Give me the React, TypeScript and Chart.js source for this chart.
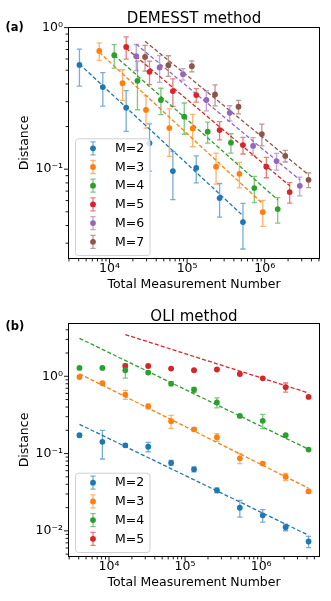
import React, { useEffect, useRef } from "react";
import { Chart, registerables } from "chart.js";
Chart.register(...registerables);

const FONT = "'DejaVu Sans', 'Liberation Sans', sans-serif";
const TAB = ["#1f77b4", "#ff7f0e", "#2ca02c", "#d62728", "#9467bd", "#8c564b"];
const X_TITLE = "Total Measurement Number";
const Y_TITLE = "Distance";

// ---------------- Panel (a): DEMESST method ----------------
const aTitle = "DEMESST method";
const aLabels = ["M=2", "M=3", "M=4", "M=5", "M=6", "M=7"];
const aX2 = [4096, 8192, 16384, 32768, 65536, 131072, 262144, 524288];
const aX3 = [7370, 14700, 29500, 59000, 118000, 236000, 472000, 944000];
const aX4 = [11500, 22900, 45900, 91800, 184000, 367000, 734000, 1470000];
const aX5 = [16384, 32768, 65536, 131072, 262144, 524288, 1048576, 2097152];
const aX6 = [22100, 44200, 88500, 177000, 354000, 708000, 1420000, 2830000];
const aX7 = [28700, 57300, 115000, 229000, 459000, 918000, 1840000, 3670000];
const aY2 = [0.545, 0.38, 0.272, 0.153, 0.097, 0.102, 0.0625, 0.0423];
const aE2 = [0.159, 0.101, 0.087, 0.056, 0.036, 0.022, 0.0167, 0.015];
const aY3 = [0.684, 0.405, 0.262, 0.195, 0.194, 0.104, 0.0927, 0.0498];
const aE3 = [0.097, 0.099, 0.067, 0.072, 0.05, 0.0257, 0.019, 0.0104];
const aY4 = [0.638, 0.421, 0.308, 0.235, 0.184, 0.154, 0.0735, 0.0523];
const aE4 = [0.12, 0.158, 0.065, 0.0585, 0.031, 0.024, 0.0155, 0.0107];
const aY5 = [0.73, 0.487, 0.356, 0.334, 0.189, 0.148, 0.104, 0.0689];
const aE5 = [0.131, 0.092, 0.078, 0.0365, 0.028, 0.02, 0.017, 0.0114];
const aY6 = [0.628, 0.523, 0.469, 0.308, 0.25, 0.146, 0.114, 0.0763];
const aE6 = [0.132, 0.112, 0.044, 0.05, 0.0305, 0.021, 0.0154, 0.0115];
const aY7 = [0.621, 0.543, 0.534, 0.337, 0.276, 0.177, 0.124, 0.0841];
const aE7 = [0.129, 0.09, 0.0475, 0.057, 0.03, 0.031, 0.0116, 0.0101];
// dashed fit lines: value at first and last x of each series
const aFitStart = [0.552, 0.67, 0.638, 0.715, 0.763, 0.801];
const aFitEnd = [0.0469, 0.057, 0.0608, 0.0763, 0.0841, 0.0912];
const aXLim = [2916, 5156000];
const aYLim = [0.0232, 1.01];

// ---------------- Panel (b): OLI method ----------------
const bTitle = "OLI method";
const bLabels = ["M=2", "M=3", "M=4", "M=5"];
const bX = [4096, 8192, 16384, 32768, 65536, 131072, 262144, 524288, 1048576, 2097152, 4194304];
const bX5 = [16384, 32768, 65536, 131072, 262144, 524288, 1048576, 2097152, 4194304];
const bY2 = [0.1725, 0.142, 0.128, 0.1225, 0.076, 0.0626, 0.0335, 0.0199, 0.0159, 0.01113, 0.00728];
const bE2 = [0.008, 0.057, 0.005, 0.017, 0.0056, 0.0045, 0.0025, 0.0048, 0.0029, 0.0011, 0.0012];
const bY3 = [0.979, 0.812, 0.58, 0.409, 0.262, 0.206, 0.1625, 0.0869, 0.0743, 0.0501, 0.0325];
const bE3 = [0.03, 0.03, 0.077, 0.03, 0.05, 0.01, 0.019, 0.013, 0.003, 0.0053, 0.002];
const bY4 = [1.281, 1.281, 1.196, 1.117, 0.804, 0.669, 0.458, 0.3065, 0.2656, 0.1725, 0.1126];
const bE4 = [0.03, 0.03, 0.25, 0.04, 0.05, 0.05, 0.068, 0.01, 0.055, 0.005, 0.004];
const bY5 = [1.359, 1.359, 1.258, 1.196, 1.224, 1.071, 0.942, 0.721, 0.54];
const bE5 = [0.02, 0.02, 0.02, 0.02, 0.02, 0.02, 0.02, 0.097, 0.01];
const bFitStart = [0.239, 1.077, 3.1, 3.464];
const bFitEnd = [0.00877, 0.0356, 0.1137, 0.608];
const bXLim = [2894, 5930000];
const bYLim = [0.00459, 4.89];

const SUP: Record<string, string> = {
  "0": "\u2070", "1": "\u00b9", "2": "\u00b2", "3": "\u00b3", "4": "\u2074",
  "5": "\u2075", "6": "\u2076", "7": "\u2077", "8": "\u2078", "9": "\u2079", "-": "\u207b",
};
const powLabel = (v: number) => {
  const l = Math.log10(v);
  const r = Math.round(l);
  if (Math.abs(l - r) > 1e-6) return "";
  return "10" + String(r).split("").map((c) => SUP[c]).join("");
};

function rgba(hex: string, a: number) {
  const n = parseInt(hex.slice(1), 16);
  return `rgba(${(n >> 16) & 255},${(n >> 8) & 255},${n & 255},${a})`;
}

type Series = { label: string; xs: number[]; ys: number[]; errs: number[]; fit: [number, number] };
type PanelCfg = {
  title: string;
  panel: string;
  series: Series[];
  xLim: number[];
  yLim: number[];
  height: number;
  padTop: number;
  xAxisHeight: number;
  xTitlePad: number;
  xTickPad: number;
  titleGap: number;
  panelLabelY: number;
  legendGap: number;
};

function drawErrGlyph(ctx: CanvasRenderingContext2D, x: number, y1: number, y2: number, color: string) {
  const cap = 2.6;
  ctx.strokeStyle = rgba(color, 0.6);
  ctx.lineWidth = 1.3;
  ctx.beginPath();
  ctx.moveTo(x, y1);
  ctx.lineTo(x, y2);
  ctx.moveTo(x - cap, y1);
  ctx.lineTo(x + cap, y1);
  ctx.moveTo(x - cap, y2);
  ctx.lineTo(x + cap, y2);
  ctx.stroke();
}

function makePlugin(cfg: PanelCfg) {
  return {
    id: "panelDecor",
    beforeDatasetsDraw(chart: any) {
      const { ctx, scales } = chart;
      const xs = scales.x, ys = scales.y;
      ctx.save();
      chart.data.datasets.forEach((ds: any) => {
        if (!ds.errors) return;
        ds.data.forEach((p: any, j: number) => {
          const e = ds.errors[j];
          const px = xs.getPixelForValue(p.x);
          const y1 = ys.getPixelForValue(p.y + e);
          const y2 = ys.getPixelForValue(Math.max(p.y - e, 1e-9));
          drawErrGlyph(ctx, px, y1, y2, ds.baseColor);
        });
      });
      ctx.restore();
    },
    afterDraw(chart: any) {
      const { ctx, chartArea: a, scales } = chart;
      ctx.save();
      // frame
      ctx.strokeStyle = "#000";
      ctx.lineWidth = 1;
      ctx.strokeRect(Math.round(a.left) + 0.5, Math.round(a.top) + 0.5, Math.round(a.right - a.left) - 1, Math.round(a.bottom - a.top) - 1);
      // ticks
      ctx.lineWidth = 0.9;
      const drawTicks = (scale: any, horizontal: boolean) => {
        const lo = Math.floor(Math.log10(scale.min));
        const hi = Math.ceil(Math.log10(scale.max));
        for (let d = lo; d <= hi; d++) {
          for (let m = 1; m <= 9; m++) {
            const v = m * Math.pow(10, d);
            if (v < scale.min || v > scale.max) continue;
            const p = scale.getPixelForValue(v);
            const len = m === 1 ? 4 : 2.4;
            ctx.beginPath();
            if (horizontal) {
              ctx.moveTo(p, a.bottom);
              ctx.lineTo(p, a.bottom + len);
            } else {
              ctx.moveTo(a.left, p);
              ctx.lineTo(a.left - len, p);
            }
            ctx.stroke();
          }
        }
      };
      drawTicks(scales.x, true);
      drawTicks(scales.y, false);
      // title
      ctx.fillStyle = "#000";
      ctx.font = `15px ${FONT}`;
      ctx.textAlign = "center";
      ctx.textBaseline = "alphabetic";
      ctx.fillText(cfg.title, (a.left + a.right) / 2, a.top - cfg.titleGap);
      // panel label
      ctx.font = `bold 11.5px ${FONT}`;
      ctx.textAlign = "left";
      ctx.textBaseline = "middle";
      ctx.fillText(cfg.panel, 5.5, cfg.panelLabelY);
      // legend
      const pts = chart.data.datasets.filter((d: any) => d.errors);
      const rowH = 18.7;
      const boxH = pts.length * rowH + 4.5;
      const boxW = 74.5;
      const bx = a.left + 7;
      const by = a.bottom - cfg.legendGap - boxH;
      ctx.beginPath();
      (ctx as any).roundRect(bx + 0.5, by + 0.5, boxW, boxH, 3);
      ctx.fillStyle = "rgba(255,255,255,0.8)";
      ctx.fill();
      ctx.strokeStyle = "rgba(204,204,204,0.9)";
      ctx.lineWidth = 1;
      ctx.stroke();
      pts.forEach((d: any, i: number) => {
        const cy = by + 10 + i * rowH;
        const mx = bx + 18;
        drawErrGlyph(ctx, mx, cy - 6.5, cy + 6.5, d.baseColor);
        ctx.fillStyle = d.baseColor;
        ctx.beginPath();
        ctx.arc(mx, cy, 2.9, 0, Math.PI * 2);
        ctx.fill();
        ctx.fillStyle = "#000";
        ctx.font = `12.5px ${FONT}`;
        ctx.textAlign = "left";
        ctx.textBaseline = "middle";
        ctx.fillText(d.label, bx + 40, cy + 0.5);
      });
      ctx.restore();
    },
  };
}

function buildConfig(cfg: PanelCfg): any {
  const datasets: any[] = [];
  cfg.series.forEach((s, i) => {
    const c = TAB[i];
    datasets.push({
      label: s.label,
      data: s.xs.map((x, j) => ({ x, y: s.ys[j] })),
      errors: s.errs,
      baseColor: c,
      backgroundColor: c,
      borderColor: c,
      pointRadius: 2.9,
      pointHoverRadius: 2.9,
      pointBorderWidth: 0,
      showLine: false,
      order: 1,
    });
  });
  cfg.series.forEach((s, i) => {
    const c = TAB[i];
    datasets.push({
      label: s.label + " fit",
      data: [
        { x: s.xs[0], y: s.fit[0] },
        { x: s.xs[s.xs.length - 1], y: s.fit[1] },
      ],
      borderColor: c,
      backgroundColor: c,
      borderWidth: 1.3,
      borderDash: [4, 2.2],
      pointRadius: 0,
      showLine: true,
      fill: false,
      order: 2,
    });
  });
  const tickFont = { family: FONT, size: 12.5 };
  return {
    type: "scatter",
    data: { datasets },
    options: {
      responsive: false,
      animation: false,
      events: [],
      layout: { padding: { left: 0, right: 11, top: cfg.padTop, bottom: 0 } },
      plugins: { legend: { display: false }, tooltip: { enabled: false }, title: { display: false } },
      scales: {
        x: {
          type: "logarithmic",
          position: "bottom",
          min: cfg.xLim[0],
          max: cfg.xLim[1],
          grid: { display: false, drawTicks: false },
          border: { display: false },
          ticks: {
            callback: powLabel,
            autoSkip: false,
            maxRotation: 0,
            minRotation: 0,
            padding: cfg.xTickPad,
            color: "#000",
            font: tickFont,
          },
          title: {
            display: true,
            text: X_TITLE,
            color: "#000",
            font: tickFont,
            padding: { top: 0, bottom: cfg.xTitlePad },
          },
          afterFit: (sc: any) => {
            sc.height = cfg.xAxisHeight;
          },
        },
        y: {
          type: "logarithmic",
          position: "left",
          min: cfg.yLim[0],
          max: cfg.yLim[1],
          grid: { display: false, drawTicks: false },
          border: { display: false },
          ticks: { callback: powLabel, autoSkip: false, padding: 5, color: "#000", font: tickFont },
          title: {
            display: true,
            text: Y_TITLE,
            color: "#000",
            font: tickFont,
            padding: { top: 17, bottom: 0 },
          },
          afterFit: (sc: any) => {
            sc.width = 68;
          },
        },
      },
    },
    plugins: [makePlugin(cfg)],
  };
}

const panelA: PanelCfg = {
  title: aTitle,
  panel: "(a)",
  series: [
    { label: aLabels[0], xs: aX2, ys: aY2, errs: aE2, fit: [aFitStart[0], aFitEnd[0]] },
    { label: aLabels[1], xs: aX3, ys: aY3, errs: aE3, fit: [aFitStart[1], aFitEnd[1]] },
    { label: aLabels[2], xs: aX4, ys: aY4, errs: aE4, fit: [aFitStart[2], aFitEnd[2]] },
    { label: aLabels[3], xs: aX5, ys: aY5, errs: aE5, fit: [aFitStart[3], aFitEnd[3]] },
    { label: aLabels[4], xs: aX6, ys: aY6, errs: aE6, fit: [aFitStart[4], aFitEnd[4]] },
    { label: aLabels[5], xs: aX7, ys: aY7, errs: aE7, fit: [aFitStart[5], aFitEnd[5]] },
  ],
  xLim: aXLim,
  yLim: aYLim,
  height: 300,
  padTop: 27,
  xAxisHeight: 41,
  xTitlePad: 7.5,
  xTickPad: 2.5,
  titleGap: 4,
  panelLabelY: 28.5,
  legendGap: 4,
};

const panelB: PanelCfg = {
  title: bTitle,
  panel: "(b)",
  series: [
    { label: bLabels[0], xs: bX, ys: bY2, errs: bE2, fit: [bFitStart[0], bFitEnd[0]] },
    { label: bLabels[1], xs: bX, ys: bY3, errs: bE3, fit: [bFitStart[1], bFitEnd[1]] },
    { label: bLabels[2], xs: bX, ys: bY4, errs: bE4, fit: [bFitStart[2], bFitEnd[2]] },
    { label: bLabels[3], xs: bX5, ys: bY5, errs: bE5, fit: [bFitStart[3], bFitEnd[3]] },
  ],
  xLim: bXLim,
  yLim: bYLim,
  height: 301,
  padTop: 23,
  xAxisHeight: 44,
  xTitlePad: 10.5,
  xTickPad: 2,
  titleGap: 2,
  panelLabelY: 27,
  legendGap: 5,
};

function Panel({ cfg, top }: { cfg: PanelCfg; top: number }) {
  const ref = useRef<HTMLCanvasElement | null>(null);
  useEffect(() => {
    if (!ref.current) return;
    const chart = new Chart(ref.current, buildConfig(cfg));
    return () => chart.destroy();
  }, [cfg]);
  return (
    <canvas
      ref={ref}
      width={331}
      height={cfg.height}
      style={{ position: "absolute", left: 0, top, width: 331, height: cfg.height, display: "block" }}
    />
  );
}

export default function App() {
  return (
    <div style={{ position: "absolute", left: 0, top: 0, width: 331, height: 601, background: "#fff", overflow: "hidden" }}>
      <Panel cfg={panelA} top={0} />
      <Panel cfg={panelB} top={300} />
    </div>
  );
}
